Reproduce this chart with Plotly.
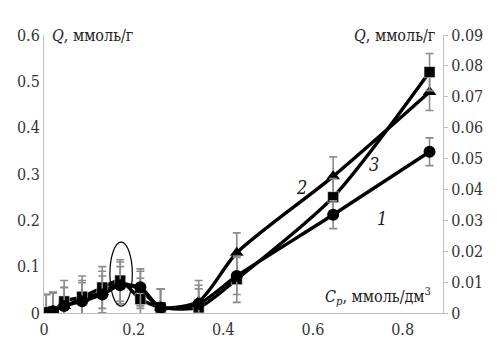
import plotly.graph_objects as go

# Data
cp = [0.005, 0.02, 0.045, 0.085, 0.13, 0.17, 0.215, 0.26, 0.345, 0.43, 0.645, 0.86]

# curve 1 (circles) - right axis, mmol/g
q1 = [0.0, 0.0006, 0.0023, 0.0038, 0.006, 0.009, 0.0083, 0.0018, 0.003, 0.012, 0.0318, 0.0522]
e1 = [0.006, 0.006, 0.006, 0.006, 0.006, 0.006, 0.006, 0.006, 0.006, 0.006, 0.0045, 0.0045]

# curve 2 (triangles) - left axis, mmol/g
q2 = [0.0, 0.005, 0.015, 0.03, 0.045, 0.065, 0.05, 0.012, 0.025, 0.13, 0.295, 0.477]
e2 = [0.04, 0.04, 0.04, 0.04, 0.045, 0.045, 0.04, 0.04, 0.045, 0.043, 0.042, 0.04]

# curve 3 (squares) - left axis, mmol/g
q3 = [0.0, 0.003, 0.025, 0.035, 0.055, 0.07, 0.03, 0.012, 0.012, 0.073, 0.25, 0.52]
e3 = [0.04, 0.04, 0.045, 0.045, 0.045, 0.045, 0.045, 0.04, 0.04, 0.05, 0.04, 0.04]

x_ticks = [0, 0.2, 0.4, 0.6, 0.8]
y_left_ticks = [0, 0.1, 0.2, 0.3, 0.4, 0.5, 0.6]
y_right_ticks = [0, 0.01, 0.02, 0.03, 0.04, 0.05, 0.06, 0.07, 0.08, 0.09]

FONT = "DejaVu Serif Condensed, DejaVu Serif"
err_style = dict(type="data", color="#8c8c8c", thickness=1.6, width=4)
line_style = dict(color="black", width=3.4, shape="spline", smoothing=0.7)

fig = go.Figure()
fig.add_trace(go.Scatter(x=cp, y=q1, yaxis="y2", mode="lines+markers",
                         line=line_style, marker=dict(symbol="circle", size=12, color="black"),
                         error_y=dict(array=e1, **err_style), name="1"))
fig.add_trace(go.Scatter(x=cp, y=q2, mode="lines+markers",
                         line=line_style, marker=dict(symbol="triangle-up", size=12, color="black"),
                         error_y=dict(array=e2, **err_style), name="2"))
fig.add_trace(go.Scatter(x=cp, y=q3, mode="lines+markers",
                         line=line_style, marker=dict(symbol="square", size=11, color="black",
                                                      line=dict(color="white", width=0.5)),
                         error_y=dict(array=e3, **err_style), name="3"))

fig.add_shape(type="circle", xref="x", yref="y", x0=0.147, x1=0.197, y0=0.015, y1=0.153,
              line=dict(color="black", width=1.2))

tickfont = dict(family=FONT, size=16, color="#333333")
fig.update_layout(
    template="none",
    width=497, height=359,
    margin=dict(l=36, r=62, t=27, b=54),
    paper_bgcolor="white", plot_bgcolor="white",
    showlegend=False,
    font=dict(family=FONT, size=16),
    xaxis=dict(range=[0, 0.89], tickvals=x_ticks, ticktext=["0", "0.2", "0.4", "0.6", "0.8"],
               showgrid=False, zeroline=False, showline=True, linecolor="#bfbfbf", linewidth=1,
               ticks="", tickfont=tickfont, ticklabelstandoff=2),
    yaxis=dict(range=[0, 0.6], tickvals=y_left_ticks, ticktext=["0", "0.1", "0.2", "0.3", "0.4", "0.5", "0.6"],
               showgrid=False, zeroline=False, showline=True, linecolor="#bfbfbf", linewidth=1,
               ticks="", tickfont=tickfont),
    yaxis2=dict(range=[0, 0.09], tickvals=y_right_ticks,
                ticktext=["0", "0.01", "0.02", "0.03", "0.04", "0.05", "0.06", "0.07", "0.08", "0.09"],
                overlaying="y", side="right", showgrid=False, zeroline=False, showline=True,
                linecolor="#bfbfbf", linewidth=1, ticks="outside", ticklen=4, tickcolor="#bfbfbf",
                tickfont=tickfont),
)

afont = dict(family=FONT, size=16, color="#222222")
fig.add_annotation(xref="paper", yref="paper", x=0.015, y=1.0, xanchor="left", yanchor="middle",
                   text="<i>Q</i>, ммоль/г", showarrow=False, font=afont)
fig.add_annotation(xref="paper", yref="paper", x=0.985, y=1.0, xanchor="right", yanchor="middle",
                   text="<i>Q</i>, ммоль/г", showarrow=False, font=afont)
fig.add_annotation(xref="paper", yref="paper", x=0.975, y=0.06, xanchor="right", yanchor="middle",
                   text="<i>C<sub>p</sub></i>, ммоль/дм<sup>3</sup>", showarrow=False, font=afont)

nfont = dict(family=FONT, size=18, color="#222222")
fig.add_annotation(x=0.575, y=0.27, text="<i>2</i>", showarrow=False, font=nfont)
fig.add_annotation(x=0.735, y=0.32, text="<i>3</i>", showarrow=False, font=nfont)
fig.add_annotation(x=0.755, y=0.205, text="<i>1</i>", showarrow=False, font=nfont)

fig.write_html("out.html")
